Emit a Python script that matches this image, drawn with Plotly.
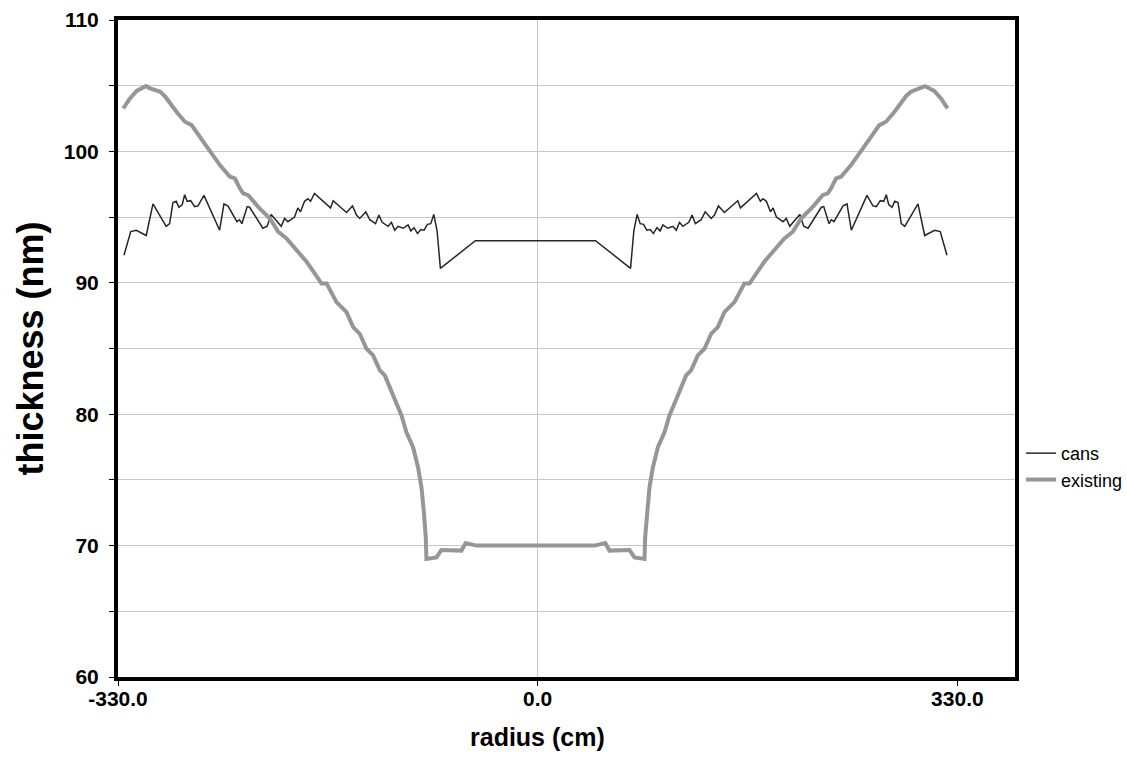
import plotly.graph_objects as go

# ---- data ----
cans_radius = [
    -325.3, -320.0, -315.6, -307.8, -302.5, -292.1, -289.4, -286.8, -284.2, -282.1,
    -279.5, -277.6, -275.6, -272.9, -269.7, -267.1, -262.4, -250.1, -246.7, -243.6,
    -236.5, -234.4, -232.6, -228.4, -226.5, -216.1, -212.7, -209.6, -201.7, -199.0,
    -196.4, -191.2, -188.6, -186.5, -183.3, -180.7, -178.6, -175.5, -162.9, -160.8,
    -150.3, -145.6, -142.5, -139.9, -135.2, -132.0, -127.5, -124.9, -122.3, -117.6,
    -115.0, -112.4, -109.8, -105.8, -101.9, -99.8, -97.2, -94.5, -91.9, -89.3,
    -86.7, -84.1, -81.7, -79.1, -76.5, -65.2, -56.0, -49.0,
    45.5, 52.5, 61.7, 73.0, 75.6, 78.2, 80.6, 83.2, 85.8, 88.4,
    91.0, 93.7, 96.3, 98.4, 102.3, 106.3, 108.9, 111.5, 114.1, 118.8,
    121.4, 124.0, 128.5, 131.7, 136.4, 139.0, 142.1, 146.8, 157.3, 159.4,
    172.0, 175.1, 177.2, 179.8, 183.0, 185.1, 187.7, 192.9, 195.5, 198.2,
    206.1, 209.2, 212.6, 223.0, 224.9, 229.1, 230.9, 233.0, 240.1, 243.2,
    246.6, 258.9, 263.6, 266.2, 269.4, 272.1, 274.1, 276.0, 278.6, 280.7,
    283.3, 285.9, 288.6, 299.0, 304.3, 312.1, 316.5, 321.8,
]
cans_thickness = [
    92.1, 93.9, 94.0, 93.6, 96.0, 94.3, 94.5, 96.1, 96.2, 95.75,
    95.95, 96.7, 96.2, 96.25, 95.8, 95.85, 96.65, 94.0, 96.0, 95.85,
    94.65, 94.8, 94.5, 95.8, 95.75, 94.15, 94.3, 95.2, 94.3, 94.9,
    94.65, 95.0, 95.7, 95.4, 96.2, 96.4, 96.2, 96.8, 95.7, 96.25,
    95.35, 95.85, 95.15, 94.9, 95.4, 94.8, 94.5, 95.15, 94.6, 94.3,
    94.6, 94.0, 94.3, 94.15, 94.4, 93.95, 94.2, 93.75, 94.05, 94.0,
    94.45, 94.5, 95.2, 93.95, 91.1, 91.95, 92.65, 93.2,
    93.2, 92.65, 91.95, 91.1, 93.95, 95.2, 94.5, 94.45, 94.0, 94.05,
    93.75, 94.2, 93.95, 94.4, 94.15, 94.3, 94.0, 94.6, 94.3, 94.6,
    95.15, 94.5, 94.8, 95.4, 94.9, 95.15, 95.85, 95.35, 96.25, 95.7,
    96.8, 96.2, 96.4, 96.2, 95.4, 95.7, 95.0, 94.65, 94.9, 94.3,
    95.2, 94.3, 94.15, 95.75, 95.8, 94.5, 94.8, 94.65, 95.85, 96.0,
    94.0, 96.65, 95.85, 95.8, 96.25, 96.2, 96.7, 95.95, 95.75, 96.2,
    96.1, 94.5, 94.3, 96.0, 93.6, 94.0, 93.9, 92.1,
]

existing_radius = [
    -325.8, -320.6, -315.3, -308.0, -304.9, -297.0, -293.1, -289.2, -283.9, -277.4,
    -272.1, -265.6, -257.7, -249.9, -242.0, -238.1, -234.2, -231.6, -227.6, -219.8,
    -210.6, -204.1, -197.5, -189.6, -181.7, -175.2, -170.0, -166.0, -158.2, -150.3,
    -145.1, -139.9, -134.6, -129.4, -124.1, -120.2, -113.7, -107.1, -103.2, -98.0,
    -94.1, -91.4, -89.6, -88.0, -87.5, -79.6, -75.7, -60.0, -56.6, -48.2,
    44.7, 53.1, 56.5, 72.2, 76.1, 84.0, 84.5, 86.1, 87.9, 90.6,
    94.5, 99.7, 103.6, 110.2, 116.7, 120.6, 125.9, 131.1, 136.4, 141.6,
    146.8, 154.7, 162.5, 166.5, 171.7, 178.2, 186.1, 194.0, 200.6, 207.1,
    216.3, 224.1, 228.1, 230.7, 234.6, 238.5, 246.4, 254.2, 262.1, 268.6,
    273.9, 280.4, 285.7, 289.6, 293.5, 301.4, 304.5, 311.8, 317.1, 322.3,
]
existing_thickness = [
    103.27, 104.03, 104.6, 104.97, 104.8, 104.55, 104.2, 103.66, 103.0, 102.26,
    102.0, 101.1, 99.98, 98.96, 98.07, 97.95, 97.19, 96.8, 96.67, 95.78,
    94.89, 93.89, 93.38, 92.5, 91.6, 90.7, 89.94, 89.94, 88.53, 87.77,
    86.63, 86.12, 84.98, 84.47, 83.33, 82.95, 81.42, 79.9, 78.63, 77.49,
    75.97, 74.44, 72.66, 70.63, 68.98, 69.1, 69.67, 69.62, 70.2, 70.0,
    70.0, 70.2, 69.62, 69.67, 69.1, 68.98, 70.63, 72.66, 74.44, 75.97,
    77.49, 78.63, 79.9, 81.42, 82.95, 83.33, 84.47, 84.98, 86.12, 86.63,
    87.77, 88.53, 89.94, 89.94, 90.7, 91.6, 92.5, 93.38, 93.89, 94.89,
    95.78, 96.67, 96.8, 97.19, 97.95, 98.07, 98.96, 99.98, 101.1, 102.0,
    102.26, 103.0, 103.66, 104.2, 104.55, 104.8, 104.97, 104.6, 104.03, 103.27,
]

x_tick_values = [-330, 0, 330]
x_tick_labels = ["-330.0", "0.0", "330.0"]
y_tick_values = [60, 70, 80, 90, 100, 110]

FONT = "Liberation Sans, Arial, sans-serif"

fig = go.Figure()
fig.add_trace(go.Scatter(
    x=cans_radius, y=cans_thickness, mode="lines", name="cans",
    line=dict(color="#262626", width=1.5),
))
fig.add_trace(go.Scatter(
    x=existing_radius, y=existing_thickness, mode="lines", name="existing",
    line=dict(color="#969696", width=4),
))

fig.update_layout(
    width=1127, height=780,
    margin=dict(l=118, r=112, t=20, b=103, autoexpand=False),
    paper_bgcolor="white", plot_bgcolor="white",
    font=dict(family=FONT, color="black"),
    legend=dict(
        xref="container", yref="container",
        x=0.906, y=0.402, xanchor="left", yanchor="middle",
        font=dict(size=18, family=FONT),
        bgcolor="rgba(0,0,0,0)", tracegroupgap=0,
    ),
    showlegend=True,
)

# x-axis title, centred on the value axis crossing (as in the reference)
fig.add_annotation(
    text="radius (cm)", xref="x", yref="paper", x=0, y=-0.0913,
    xanchor="center", yanchor="middle", showarrow=False,
    font=dict(size=25, weight="bold", family=FONT),
)

fig.update_xaxes(
    range=[-330, 375.3], automargin=False,
    tickvals=x_tick_values, ticktext=x_tick_labels,
    showgrid=False,
    zeroline=True, zerolinecolor="#c8c8c8", zerolinewidth=1,
    showline=True, linecolor="black", linewidth=4, mirror=True,
    ticks="outside", ticklen=5, tickwidth=1, tickcolor="black",
    ticklabelstandoff=-5,
    tickfont=dict(size=21, weight="bold", family=FONT),
)
fig.update_yaxes(
    range=[60, 110], automargin=False,
    tickvals=y_tick_values,
    showgrid=True, gridcolor="#c8c8c8", gridwidth=1,
    minor=dict(dtick=5, tick0=60, showgrid=True, gridcolor="#c8c8c8", gridwidth=1,
               ticks="outside", ticklen=5, tickcolor="black"),
    zeroline=False,
    showline=True, linecolor="black", linewidth=4, mirror=True,
    ticks="outside", ticklen=5, tickwidth=1, tickcolor="black",
    ticklabelstandoff=6,
    tickfont=dict(size=21, weight="bold", family=FONT),
    title=dict(text="thickness (nm)", font=dict(size=36, weight="bold", family=FONT), standoff=10),
)

fig.write_html(
    "out.html",
    config={"displayModeBar": False},
    post_script="document.body.style.margin='0';document.body.style.overflow='hidden';",
)
